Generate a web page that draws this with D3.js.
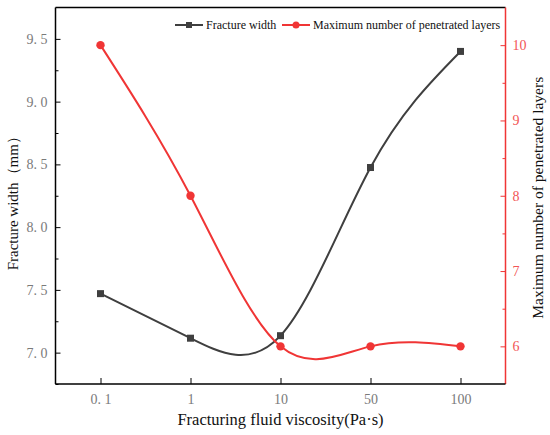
<!DOCTYPE html>
<html>
<head>
<meta charset="utf-8">
<script src="https://cdn.jsdelivr.net/npm/d3@7"></script>
<style>
  body { margin: 0; background: #fff; }
  text { font-family: "Liberation Serif", "Times New Roman", serif; }
</style>
</head>
<body>
<div id="chart"></div>
<script>
// data
var viscosity = ["0.1", "1", "10", "50", "100"];
var viscosityLabels = ["0. 1", "1", "10", "50", "100"];
var fractureWidth = [7.47, 7.115, 7.135, 8.475, 9.40];
var penetratedLayers = [10, 8, 6, 6, 6];
var leftTicks = [7.0, 7.5, 8.0, 8.5, 9.0, 9.5];
var leftTickLabels = ["7. 0", "7. 5", "8. 0", "8. 5", "9. 0", "9. 5"];
var rightTicks = [6, 7, 8, 9, 10];

// note: "top" is taken by window.top, so plot edges get their own names
var W = 550, H = 435;
var plotL = 55.5, plotR = 505.5, plotT = 7.5, plotB = 384;
var black = "#3f3f3f", red = "#f03535";
var serif = "Liberation Serif";

var svg = d3.select("#chart").append("svg")
    .attr("width", W).attr("height", H);

var x = d3.scalePoint().domain(viscosity).range([plotL, plotR]).padding(0.5);
var yL = d3.scaleLinear().domain([6.75, 9.75]).range([plotB, plotT]);
var yR = d3.scaleLinear().domain([5.5, 10.5]).range([plotB, plotT]);

// top border
svg.append("line")
    .attr("x1", plotL).attr("x2", plotR).attr("y1", plotT).attr("y2", plotT)
    .attr("stroke", "#000").attr("stroke-width", 1.5);

// left axis (ticks inside)
var minorL = [6.75, 7.25, 7.75, 8.25, 8.75, 9.25];
svg.append("g")
    .attr("transform", "translate(" + plotL + ",0)")
    .call(d3.axisRight(yL).tickValues(minorL).tickSize(3).tickFormat(""))
    .call(function(g) { g.select(".domain").remove(); g.selectAll("line").attr("stroke", "#000"); });
var gL = svg.append("g")
    .attr("transform", "translate(" + plotL + ",0)")
    .call(d3.axisRight(yL).tickValues(leftTicks).tickSize(5)
        .tickFormat(function(d, i) { return leftTickLabels[i]; }));
gL.select(".domain").attr("d", "M0," + plotT + "V" + plotB).attr("stroke", "#000").attr("stroke-width", 1.5);
gL.selectAll("line").attr("stroke", "#000");
gL.selectAll("text")
    .attr("x", -8).attr("text-anchor", "end")
    .attr("font-family", serif)
    .attr("font-size", "14px").attr("fill", "#7a7a7a");

// right axis (red, ticks inside)
var minorR = [6.5, 7.5, 8.5, 9.5];
svg.append("g")
    .attr("transform", "translate(" + plotR + ",0)")
    .call(d3.axisLeft(yR).tickValues(minorR).tickSize(3).tickFormat(""))
    .call(function(g) { g.select(".domain").remove(); g.selectAll("line").attr("stroke", red); });
var gR = svg.append("g")
    .attr("transform", "translate(" + plotR + ",0)")
    .call(d3.axisLeft(yR).tickValues(rightTicks).tickSize(5).tickFormat(d3.format("d")));
gR.select(".domain").attr("d", "M0," + plotT + "V" + plotB).attr("stroke", red).attr("stroke-width", 1.5);
gR.selectAll("line").attr("stroke", red);
gR.selectAll("text")
    .attr("x", 7).attr("text-anchor", "start")
    .attr("font-family", serif)
    .attr("font-size", "14px").attr("fill", "#f25555");

// bottom axis (ticks inside)
var gB = svg.append("g")
    .attr("transform", "translate(0," + plotB + ")")
    .call(d3.axisTop(x).tickSize(6).tickFormat(function(d, i) { return viscosityLabels[i]; }));
gB.select(".domain").attr("d", "M" + plotL + ",0H" + plotR).attr("stroke", "#000").attr("stroke-width", 1.5);
gB.selectAll("line").attr("stroke", "#000");
gB.selectAll("text")
    .attr("y", 20).attr("dy", "0")
    .attr("font-family", serif)
    .attr("font-size", "14px").attr("fill", "#7a7a7a");

// axis titles
svg.append("text")
    .attr("transform", "translate(18," + ((plotT + plotB) / 2 + 4) + ") rotate(-90)")
    .attr("text-anchor", "middle")
    .attr("font-size", "15px").attr("fill", "#111")
    .text("Fracture width（mm）");
svg.append("text")
    .attr("x", (plotL + plotR) / 2).attr("y", 425)
    .attr("text-anchor", "middle")
    .attr("font-size", "16.5px").attr("fill", "#111")
    .text("Fracturing fluid viscosity(Pa·s)");
svg.append("text")
    .attr("transform", "translate(543," + ((plotT + plotB) / 2 + 2) + ") rotate(-90)")
    .attr("text-anchor", "middle")
    .attr("font-size", "15.5px").attr("fill", "#111")
    .text("Maximum number of penetrated layers");

// lines
var lineL = d3.line()
    .x(function(d, i) { return x(viscosity[i]); })
    .y(function(d) { return yL(d); })
    .curve(d3.curveNatural);
var lineR = d3.line()
    .x(function(d, i) { return x(viscosity[i]); })
    .y(function(d) { return yR(d); })
    .curve(d3.curveNatural);

svg.append("path").datum(fractureWidth)
    .attr("d", lineL).attr("fill", "none")
    .attr("stroke", black).attr("stroke-width", 2);
svg.append("path").datum(penetratedLayers)
    .attr("d", lineR).attr("fill", "none")
    .attr("stroke", red).attr("stroke-width", 2);

svg.selectAll(".sq").data(fractureWidth).enter().append("rect")
    .attr("class", "sq")
    .attr("x", function(d, i) { return x(viscosity[i]) - 3.5; })
    .attr("y", function(d) { return yL(d) - 3.5; })
    .attr("width", 7).attr("height", 7)
    .attr("fill", black);
svg.selectAll(".dot").data(penetratedLayers).enter().append("circle")
    .attr("class", "dot")
    .attr("cx", function(d, i) { return x(viscosity[i]); })
    .attr("cy", function(d) { return yR(d); })
    .attr("r", 4.2)
    .attr("fill", red);

// legend
var legend = svg.append("g").attr("transform", "translate(0,25)");
legend.append("line").attr("x1", 175).attr("x2", 203).attr("y1", 0).attr("y2", 0)
    .attr("stroke", black).attr("stroke-width", 2);
legend.append("rect").attr("x", 186).attr("y", -3).attr("width", 6).attr("height", 6).attr("fill", black);
legend.append("text").attr("x", 206).attr("y", 4)
    .attr("font-size", "12px").attr("fill", "#111").text("Fracture width");
legend.append("line").attr("x1", 282).attr("x2", 310).attr("y1", 0).attr("y2", 0)
    .attr("stroke", red).attr("stroke-width", 2);
legend.append("circle").attr("cx", 296).attr("cy", 0).attr("r", 3.5).attr("fill", red);
legend.append("text").attr("x", 313).attr("y", 4)
    .attr("font-size", "12px").attr("fill", "#111").text("Maximum number of penetrated layers");
</script>
</body>
</html>
